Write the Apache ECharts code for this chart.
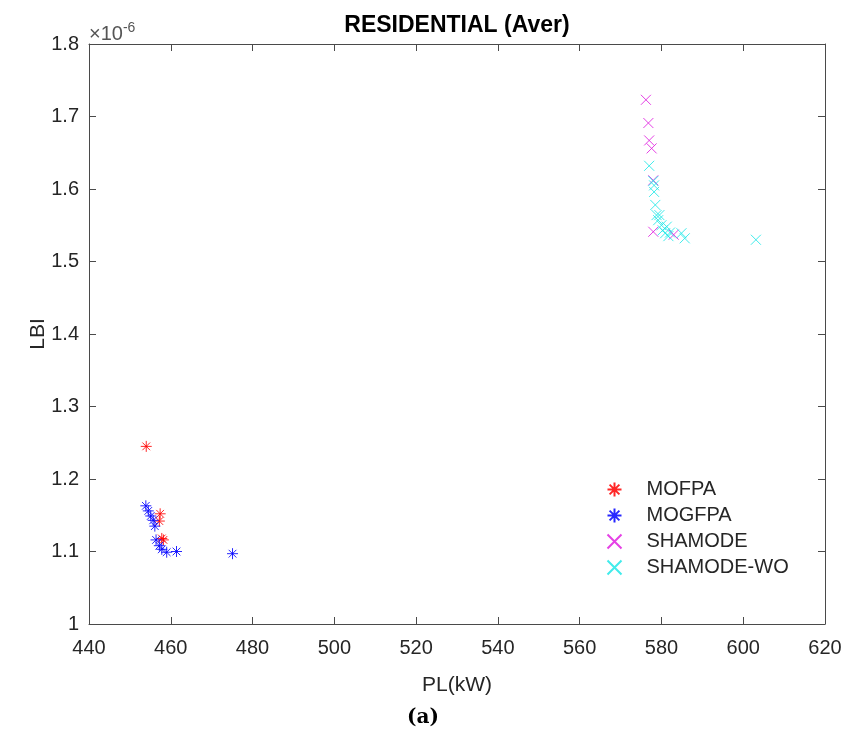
<!DOCTYPE html>
<html>
<head>
<meta charset="utf-8">
<script src="https://cdn.jsdelivr.net/npm/echarts@6/dist/echarts.min.js"></script>
<style>html,body{margin:0;padding:0;background:#fff}#c{width:847px;height:738px}</style>
</head>
<body>
<div id="c"></div>
<script>
// LBI values are in units of 1e-6
const xTicks = [440, 460, 480, 500, 520, 540, 560, 580, 600, 620];
const yTicks = [1, 1.1, 1.2, 1.3, 1.4, 1.5, 1.6, 1.7, 1.8];
const seriesNames = ['MOFPA', 'MOGFPA', 'SHAMODE', 'SHAMODE-WO'];

const mofpaPL  = [454.0, 457.4, 457.2, 457.8, 458.2];
const mofpaLBI = [1.245, 1.152, 1.142, 1.118, 1.116];

const mogfpaPL  = [453.9, 454.5, 455.1, 455.7, 456.1, 456.4, 457.2, 457.8, 459.0, 461.4, 475.1];
const mogfpaLBI = [1.163, 1.156, 1.149, 1.143, 1.135, 1.116, 1.108, 1.103, 1.099, 1.100, 1.097];

const shamodePL  = [576.2, 576.8, 577.0, 577.6, 578.0, 578.0, 583.0];
const shamodeLBI = [1.723, 1.691, 1.667, 1.656, 1.612, 1.541, 1.537];

const shamodeWoPL  = [577.0, 578.0, 578.2, 578.2, 578.5, 578.8, 579.2, 579.5, 580.0, 580.3, 580.9, 581.3, 581.7, 582.1, 584.9, 585.7, 603.1];
const shamodeWoLBI = [1.632, 1.611, 1.605, 1.596, 1.578, 1.564, 1.557, 1.564, 1.550, 1.543, 1.539, 1.548, 1.535, 1.540, 1.539, 1.532, 1.530];

const zip = (a, b) => a.map((v, i) => [v, b[i]]);

const ASTER = 'path://M5,0L5,10M0,5L10,5M1.5,1.5L8.5,8.5M8.5,1.5L1.5,8.5';
const CROSS = 'path://M0,0L10,10M10,0L0,10';

function sc(name, data, symbol, color, size) {
  return {
    name, type: 'scatter', data, symbol, symbolSize: size,
    xAxisIndex: 0, yAxisIndex: 0,
    itemStyle: { color: 'none', borderColor: color, borderWidth: 1, opacity: 0.85 },
    emphasis: { disabled: true }
  };
}

const axisCol = '#4a4a4a';
const txtCol = '#262626';
const font = 'Liberation Sans, Arial, sans-serif';

const chart = echarts.init(document.getElementById('c'), null, { renderer: 'canvas' });
chart.setOption({
  backgroundColor: '#fff',
  animation: false,
  grid: { left: 89, right: 22, top: 44, bottom: 114, containLabel: false },
  legend: {
    data: seriesNames,
    orient: 'vertical',
    left: 600, top: 474,
    itemWidth: 14, itemHeight: 14, itemGap: 5,
    textStyle: { fontFamily: font, fontSize: 20, lineHeight: 21, color: txtCol, padding: [0, 0, 0, 20] },
    selectedMode: false
  },
  xAxis: [{
    type: 'value', min: xTicks[0], max: xTicks[xTicks.length - 1], interval: 20,
    name: 'PL(kW)', nameLocation: 'middle', nameGap: 51, nameMoveOverlap: false,
    nameTextStyle: { fontFamily: font, fontSize: 21, color: txtCol },
    axisLine: { show: true, lineStyle: { color: axisCol, width: 1 } },
    axisTick: { show: true, inside: true, length: 7, lineStyle: { color: axisCol } },
    axisLabel: { fontFamily: font, fontSize: 20, color: txtCol, margin: 14 },
    splitLine: { show: false }
  }, {
    type: 'value', position: 'top', min: xTicks[0], max: xTicks[xTicks.length - 1], interval: 20,
    axisLine: { show: true, onZero: false, lineStyle: { color: axisCol, width: 1 } },
    axisTick: { show: true, inside: true, length: 7, lineStyle: { color: axisCol } },
    axisLabel: { show: false }, splitLine: { show: false }
  }],
  yAxis: [{
    type: 'value', min: yTicks[0], max: yTicks[yTicks.length - 1], interval: 0.1,
    name: 'LBI', nameLocation: 'middle', nameGap: 40, nameMoveOverlap: false,
    nameTextStyle: { fontFamily: font, fontSize: 21, color: txtCol },
    axisLine: { show: true, lineStyle: { color: axisCol, width: 1 } },
    axisTick: { show: true, inside: true, length: 7, lineStyle: { color: axisCol } },
    axisLabel: { fontFamily: font, fontSize: 20, color: txtCol, margin: 10,
      formatter: v => String(Math.round(v * 10) / 10) },
    splitLine: { show: false }
  }, {
    type: 'value', position: 'right', min: yTicks[0], max: yTicks[yTicks.length - 1], interval: 0.1,
    axisLine: { show: true, onZero: false, lineStyle: { color: axisCol, width: 1 } },
    axisTick: { show: true, inside: true, length: 7, lineStyle: { color: axisCol } },
    axisLabel: { show: false }, splitLine: { show: false }
  }],
  graphic: [
    { type: 'text', x: 457, y: 26, style: { text: 'RESIDENTIAL (Aver)', font: 'bold 23px ' + font, fill: '#000', align: 'center', verticalAlign: 'middle' } },
    { type: 'text', x: 89, y: 34, style: { text: '{b|×10}{s|-6}', verticalAlign: 'middle',
      rich: { b: { fontSize: 20, fontFamily: font, fill: '#555' },
              s: { fontSize: 14, fontFamily: font, fill: '#555', verticalAlign: 'top', padding: [0, 0, 11, 0] } } } },
    { type: 'text', x: 423, y: 718, style: { text: '(a)', font: 'bold 20px "DejaVu Serif", "Liberation Serif", serif', fill: '#000', align: 'center', verticalAlign: 'middle' } }
  ],
  series: [
    sc(seriesNames[0], zip(mofpaPL, mofpaLBI), ASTER, '#ff0000', 11),
    sc(seriesNames[1], zip(mogfpaPL, mogfpaLBI), ASTER, '#0000ff', 11),
    sc(seriesNames[2], zip(shamodePL, shamodeLBI), CROSS, '#e020e0', 10),
    sc(seriesNames[3], zip(shamodeWoPL, shamodeWoLBI), CROSS, '#20e8e8', 10)
  ]
});
</script>
</body>
</html>
